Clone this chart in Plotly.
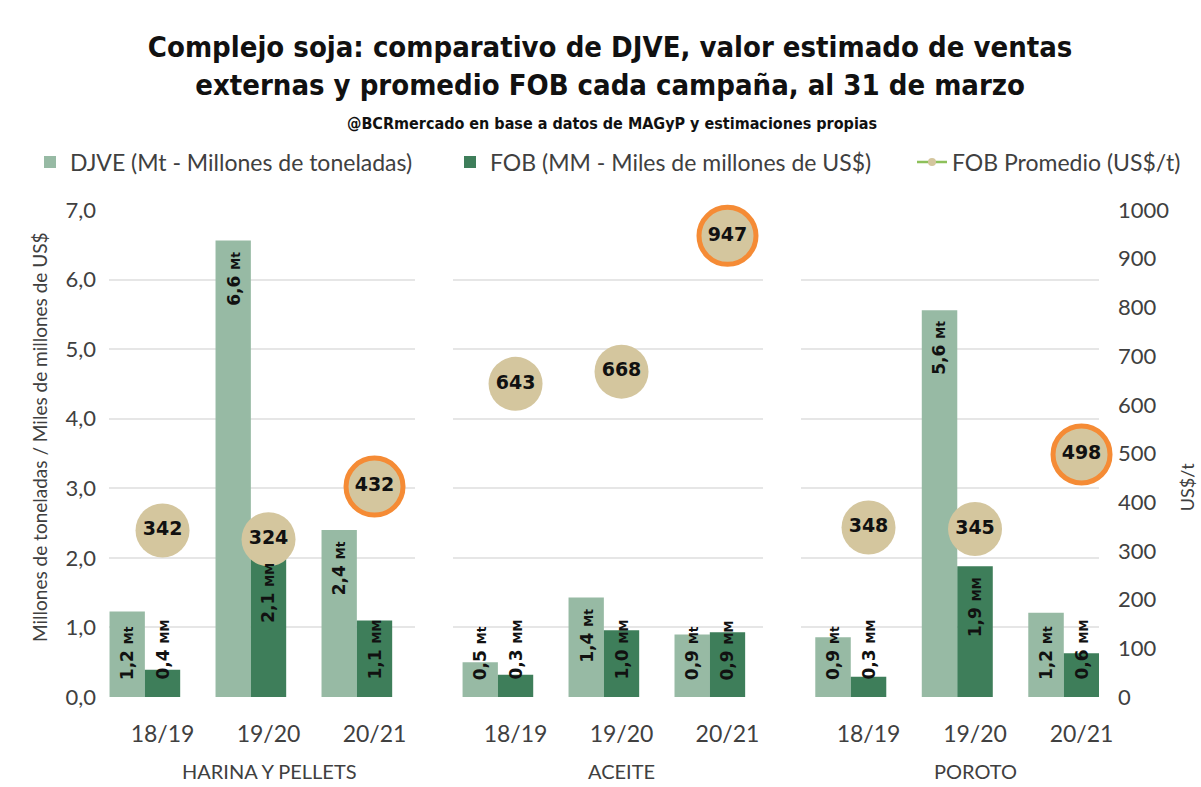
import plotly.graph_objects as go

# ---------------- data ----------------
campaigns = ["18/19", "19/20", "20/21"]
products = ["HARINA Y PELLETS", "ACEITE", "POROTO"]

djve_harina = [1.23, 6.56, 2.40]
djve_aceite = [0.50, 1.43, 0.90]
djve_poroto = [0.86, 5.56, 1.21]

fob_harina = [0.39, 2.08, 1.10]
fob_aceite = [0.32, 0.96, 0.93]
fob_poroto = [0.29, 1.88, 0.63]

prom_harina = [342, 324, 432]
prom_aceite = [643, 668, 947]
prom_poroto = [348, 345, 498]

djve_series = [djve_harina, djve_aceite, djve_poroto]
fob_series = [fob_harina, fob_aceite, fob_poroto]
prom_series = [prom_harina, prom_aceite, prom_poroto]

# ---------------- style ----------------
C_DJVE = "#97BAA4"
C_FOB = "#3E7E5A"
C_PROM = "#D4C69E"
C_RING = "#F58B35"
C_LEG_LINE = "#8DC05A"
GRID = "#E6E6E6"
TXT = "#404040"
FONT = "Lato, 'Open Sans', sans-serif"
LBL_FONT = "'DejaVu Sans', Verdana, sans-serif"
TITLE_FONT = "'DejaVu Sans Condensed', 'DejaVu Sans', sans-serif"

x_names = ["x", "x2", "x3"]
x_domains = [[0.0, 0.3091], [0.3475, 0.6606], [0.699, 1.0]]
x_ranges = [[-0.505, 2.382], [-0.590, 2.335], [-0.634, 2.164]]
SLOT = 1 / 3
FIT = 1.3  # bars shorter than this get their label anchored at the base

def fmt(v, unit):
    return f"{v:.1f}".replace(".", ",") + f" <span style='font-size:12px'>{unit}</span>"

def cond(s):
    return f"<span style='font-stretch:condensed'>{s}</span>"

fig = go.Figure()
annotations = []
xs = list(range(len(campaigns)))

for k, (xa, prod) in enumerate(zip(x_names, products)):
    fig.add_trace(go.Bar(
        x=xs, y=djve_series[k], offset=-0.5, width=SLOT,
        marker=dict(color=C_DJVE, line=dict(width=0)),
        name="DJVE (Mt - Millones de toneladas)", legendgroup="djve",
        legend="legend", showlegend=(k == 0), xaxis=xa, yaxis="y", hoverinfo="y"))
    fig.add_trace(go.Bar(
        x=xs, y=fob_series[k], offset=-0.5 + SLOT, width=SLOT,
        marker=dict(color=C_FOB, line=dict(width=0)),
        name="FOB (MM - Miles de millones de US$)", legendgroup="fob",
        legend="legend2", showlegend=(k == 0), xaxis=xa, yaxis="y", hoverinfo="y"))

    # bar labels
    for series, unit, off in ((djve_series[k], "Mt", -SLOT), (fob_series[k], "MM", 0.0)):
        for i, v in enumerate(series):
            tall = v >= FIT
            annotations.append(dict(
                x=i + off, y=v if tall else 0, xref=xa, yref="y",
                text=fmt(v, unit), textangle=-90, showarrow=False,
                xanchor="center", yanchor="top" if tall else "bottom",
                yshift=-9 if tall else 15,
                font=dict(family=LBL_FONT, size=17, color="#111111", weight="bold")))

    # FOB promedio circles
    n = len(prom_series[k])
    fig.add_trace(go.Scatter(
        x=xs, y=prom_series[k], xaxis=xa, yaxis="y2", cliponaxis=False,
        mode="markers+text", text=[str(v) for v in prom_series[k]],
        textposition="middle center",
        textfont=dict(family=LBL_FONT, size=19, color="#111111", weight="bold"),
        marker=dict(color=C_PROM, opacity=1,
                    size=[54] * (n - 1) + [57],
                    line=dict(color=["rgba(0,0,0,0)"] * (n - 1) + [C_RING],
                              width=[0] * (n - 1) + [5])),
        showlegend=False, hoverinfo="y"))

    # group label
    annotations.append(dict(
        x=1, y=-0.152, xref=xa, yref="paper", text=prod, showarrow=False,
        xanchor="center", yanchor="middle",
        font=dict(family=FONT, size=20, color=TXT)))

# legend-only entry for the FOB promedio series
fig.add_trace(go.Scatter(
    x=[None], y=[None], xaxis="x", yaxis="y2", mode="lines+markers",
    line=dict(color=C_LEG_LINE, width=2.5),
    marker=dict(color=C_PROM, size=8),
    name="FOB Promedio (US$/t)", legend="legend3", showlegend=True))

# titles
annotations.append(dict(
    x=0.508, y=1.1786, xref="paper", yref="paper", showarrow=False,
    text=cond("@BCRmercado en base a datos de MAGyP y estimaciones propias"),
    xanchor="center", yanchor="middle",
    font=dict(family=TITLE_FONT, size=16, color="#111111", weight="bold")))
annotations.append(dict(
    x=-0.0697, y=0.534, xref="paper", yref="paper", showarrow=False,
    text="Millones de toneladas / Miles de millones de US$", textangle=-90,
    xanchor="center", yanchor="middle",
    font=dict(family=FONT, size=19, color=TXT)))
annotations.append(dict(
    x=1.089, y=0.431, xref="paper", yref="paper", showarrow=False,
    text="US$/t", textangle=-90, xanchor="center", yanchor="middle",
    font=dict(family=FONT, size=18, color=TXT)))

def leg(xpx):
    return dict(orientation="h", x=xpx / 1201, xref="container", xanchor="left",
                y=1 - 162 / 787, yref="container", yanchor="middle",
                font=dict(family=FONT, size=23, color=TXT),
                bgcolor="rgba(0,0,0,0)", itemwidth=30)

layout = dict(
    width=1201, height=787,
    margin=dict(l=109, r=102, t=210, b=90),
    paper_bgcolor="white", plot_bgcolor="white",
    barmode="overlay", separators=",.",
    title=dict(
        text=cond("Complejo soja: comparativo de DJVE, valor estimado de ventas") + "<br>"
             + cond("externas y promedio FOB cada campaña, al 31 de marzo"),
        x=0.508, xref="container", xanchor="center",
        y=1 - 57 / 787, yref="container", yanchor="middle",
        font=dict(family=TITLE_FONT, size=29, color="#111111", weight="bold")),
    legend=leg(30), legend2=leg(450), legend3=leg(912),
    annotations=annotations,
    yaxis=dict(range=[0, 7], dtick=1, tickformat=".1f", anchor="x",
               showgrid=True, gridcolor=GRID, gridwidth=1.5,
               zeroline=False, showline=False, ticks="",
               ticklabelstandoff=12,
               tickfont=dict(family=FONT, size=22, color=TXT)),
    yaxis2=dict(range=[0, 1000], dtick=100, overlaying="y", anchor="x3",
                side="right", showgrid=False, zeroline=False, showline=False,
                ticks="", ticklabelstandoff=18,
                tickfont=dict(family=FONT, size=22, color=TXT)),
)
for k, xa in enumerate(x_names):
    key = "xaxis" if k == 0 else f"xaxis{k + 1}"
    layout[key] = dict(domain=x_domains[k], range=x_ranges[k], anchor="y",
                       tickvals=xs, ticktext=campaigns,
                       showgrid=False, zeroline=False, showline=False, ticks="",
                       ticklabelstandoff=21,
                       tickfont=dict(family=FONT, size=23, color=TXT))

fig.update_layout(**layout)
fig.write_html("out.html", config={"displayModeBar": False},
               post_script="document.body.style.margin='0';")
